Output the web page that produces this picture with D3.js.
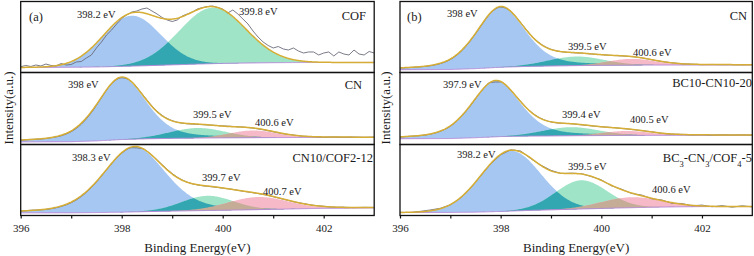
<!DOCTYPE html>
<html><head><meta charset="utf-8">
<script src="https://cdn.jsdelivr.net/npm/d3@7"></script>
<style>
body{margin:0;background:#fff}
svg{display:block}
text{font-family:"Liberation Serif","Times New Roman",serif;fill:#1a1a1a}
</style></head><body>
<svg id="c" width="754" height="256"></svg>
<script>
// ---------------- data ----------------
const energyDomain = [396, 403];
const majorTicks = [396, 398, 400, 402];
const allTicks = [396, 397, 398, 399, 400, 401, 402];
const panelLetters = ["(a)", "(b)"];
const sampleNames = ["COF", "CN", "CN10/COF2-12", "CN", "BC10-CN10-20", "BC3-CN3/COF4-5"];
const peakLabels = [
  ["398.2 eV", "399.8 eV"],
  ["398 eV", "399.5 eV", "400.6 eV"],
  ["398.3 eV", "399.7 eV", "400.7 eV"],
  ["398 eV", "399.5 eV", "400.6 eV"],
  ["397.9 eV", "399.4 eV", "400.5 eV"],
  ["398.2 eV", "399.5 eV", "400.6 eV"]
];
// fitted components (centre eV, height a.u., FWHM eV, Lorentzian fraction)
const peakCenters = [[398.2, 399.8], [398.0, 399.5, 400.6], [398.25, 399.7, 400.7], [398.0, 399.5, 400.6], [397.9, 399.4, 400.5], [398.2, 399.6, 400.6]];
const peakHeights = [[72, 80], [86.5, 14, 10], [93, 21, 18], [86.5, 13, 9], [78, 11.9, 6.2], [86, 41, 15]];
const peakFwhm = [[1.35, 1.55], [1.15, 1.3, 1.1], [1.45, 1.2, 1.4], [1.15, 1.3, 1.1], [1.15, 1.3, 1.1], [1.4, 1.2, 1.4]];
const peakLorentz = [[0, 0], [0.4, 0, 0], [0.3, 0, 0], [0.4, 0, 0], [0.4, 0, 0], [0, 0, 0]];
// background
const baselineEnergies = [396, 397, 397.5, 398, 398.5, 399, 399.5, 400, 400.5, 401, 401.5, 402, 403];
const baselineValues = [
  [6.5, 6.8, 7.2, 8.0, 9.0, 10.2, 11.3, 12.3, 12.9, 13.3, 13.5, 13.6, 13.7],
  [4.3, 4.6, 5.7, 7.6, 8.6, 9.2, 9.6, 9.9, 10.1, 10.3, 10.4, 10.4, 10.4],
  [4.5, 4.6, 4.9, 5.5, 6.3, 7.0, 7.6, 8.2, 8.8, 9.5, 10.3, 11.0, 11.5],
  [3.3, 3.6, 4.8, 6.8, 7.9, 8.6, 9.1, 9.5, 9.7, 9.9, 10.0, 10.0, 10.0],
  [8.7, 9.0, 10.1, 11.7, 12.3, 12.6, 12.9, 13.1, 13.3, 13.4, 13.5, 13.5, 13.5],
  [5.0, 5.1, 5.5, 6.5, 7.8, 8.8, 9.8, 10.8, 11.7, 12.5, 13.1, 13.4, 13.5]
];
// raw spectra
const rawEnergiesFine = d3.range(71).map(i => +(396 + i * 0.1).toFixed(1));   // 0.1 eV
const rawEnergiesCoarse = d3.range(36).map(i => +(396 + i * 0.2).toFixed(1)); // 0.2 eV
const rawCOF = [7.6, 9.3, 7.9, 10, 8.6, 11.4, 9.3, 8.6, 12.1, 10, 10.7,
  14.3, 15, 20, 24.3, 34.3, 42.9, 52.9, 60, 68.6, 76.4,
  81.4, 85.7, 87.1, 90, 91.4, 87.1, 82.9, 77.9, 74.3, 72.1,
  74.3, 80, 82.9, 85.7, 90, 92.1, 93.6, 94.3, 92.1, 90,
  84.3, 88.6, 82.9, 75.7, 68.6, 58.6, 50, 42.9, 37.9, 34.3,
  36.4, 32.9, 31.4, 34.3, 30, 27.1, 28.6, 28.6, 24.3, 27.1,
  28.6, 22.9, 28.6, 25.7, 24.3, 31.4, 25.7, 24.3, 29.3, 27.1];
const rawCN_a = [6.6, 7.8, 8.3, 10.1, 12.8, 18.5, 28.9, 45.0, 65.7, 85.2, 93.4, 87.9, 71.4, 54.2, 41.2, 33.8, 30.2, 29.0,
  28.2, 27.5, 26.6, 25.8, 24.9, 23.5, 21.2, 18.4, 15.6, 13.9, 12.1, 11.6, 11.0, 11.3, 10.8, 11.1, 10.7, 11.0];
const rawCN10COF = [7.0, 8.2, 8.8, 10.4, 13.6, 19.0, 27.8, 40.6, 57.0, 74.6, 89.6, 97.6, 96.4, 86.9, 73.4, 60.6, 51.4, 46.0,
  43.2, 41.6, 39.8, 38.0, 35.4, 33.2, 30.8, 27.6, 24.0, 20.4, 17.8, 15.3, 13.9, 12.6, 12.5, 12.0, 12.4, 12.2];
const rawCN_b = [5.8, 6.4, 7.4, 8.9, 12.0, 17.8, 28.5, 44.6, 64.8, 84.0, 92.8, 86.8, 70.4, 53.0, 40.0, 32.4, 29.0, 27.7,
  26.9, 25.7, 24.8, 23.7, 23.0, 22.0, 20.3, 17.5, 15.0, 13.2, 11.7, 11.2, 10.6, 10.8, 10.5, 10.6, 10.4, 10.6];
const rawBC10 = [11.0, 12.2, 13.0, 15.0, 19.0, 26.0, 38.0, 54.6, 73.2, 87.0, 87.6, 76.0, 60.5, 46.3, 37.0, 32.0, 30.2, 29.6,
  28.0, 26.6, 25.3, 24.4, 23.0, 21.6, 20.0, 18.4, 16.2, 15.0, 14.8, 14.1, 14.3, 13.8, 14.2, 13.9, 14.1, 13.8];
const rawBC3 = [5.3, 5.0, 6.6, 8.6, 11.0, 16.0, 25.6, 39.6, 57.0, 74.2, 87.4, 94.6, 92.8, 81.8, 72.6, 65.2, 60.7, 61.2,
  60.6, 56.3, 51.7, 43.2, 38.4, 32.2, 30.0, 24.6, 23.0, 18.2, 17.9, 14.6, 15.6, 13.2, 14.8, 12.6, 14.6, 13.0];
const rawSeries = [rawCOF, rawCN_a, rawCN10COF, rawCN_b, rawBC10, rawBC3];

// ---------------- layout / style ----------------
const panels = [{x0: 20.7, x1: 374.2}, {x0: 400, x1: 752.3}];
const rows = [
  {top: 2, bottom: 72, f0: 1.5, f1: 72.5},
  {top: 73, bottom: 145, f0: 72.5, f1: 144.5},
  {top: 146, bottom: 216, f0: 144.5, f1: 215.5}
];
const compColors = ["#a6c7f1", "#a0e4c8", "#f6b9c8"];
const overlapColors = ["#33a7b1", "#c4ac97"];
const fitColor = "#d6ae36", rawColor = "#6c6c7c", baseColor = "#b68ad8";
const labelPos = [
  [[77, 18], [239, 15]],
  [[68, 88], [193, 118], [255, 126]],
  [[72, 161], [202, 181], [263, 195]],
  [[447, 17], [568, 50], [633, 56]],
  [[443, 88], [562, 118], [630, 123]],
  [[457, 158], [568, 170], [652, 193]]
];
const namePos = [[366, 20], [362, 89], [373, 162], [747, 20], [752, 87], [752, 162]];
const letterPos = [[29, 21], [407, 21]];

const svg = d3.select("#c");
const defs = svg.append("defs");
const LN2x4 = 4 * Math.LN2;
function pv(e, c, A, w, eta) {
  const t = (e - c) * (e - c) / (w * w);
  return A * ((1 - eta) * Math.exp(-LN2x4 * t) + eta / (1 + 4 * t));
}

for (let s = 0; s < 6; s++) {
  const p = s < 3 ? 0 : 1, r = s % 3;
  const P = panels[p], R = rows[r];
  const x = d3.scaleLinear().domain(energyDomain).range([P.x0, P.x1]);
  const y = d3.scaleLinear().domain([0, 100]).range([R.bottom, R.top]);
  const base = d3.scaleLinear().domain(baselineEnergies).range(baselineValues[s]);
  const grid = d3.range(0, 351).map(i => 396 + i * 0.02);
  const comp = (k, e) => pv(e, peakCenters[s][k], peakHeights[s][k], peakFwhm[s][k], peakLorentz[s][k]);
  const fit = e => base(e) + peakCenters[s].reduce((a, c, k) => a + comp(k, e), 0);

  const cid = "clip" + s;
  defs.append("clipPath").attr("id", cid).append("rect")
    .attr("x", P.x0).attr("y", R.f0).attr("width", P.x1 - P.x0).attr("height", R.f1 - R.f0);
  const g = svg.append("g").attr("clip-path", `url(#${cid})`);

  const n = peakCenters[s].length;
  for (let k = 0; k < n; k++) {
    g.append("path").datum(grid).attr("fill", compColors[k])
      .attr("d", d3.area().x(e => x(e)).y0(e => y(base(e))).y1(e => y(base(e) + comp(k, e))));
  }
  for (let k = 0; k < n - 1; k++) {
    g.append("path").datum(grid).attr("fill", overlapColors[k])
      .attr("d", d3.area().x(e => x(e)).y0(e => y(base(e))).y1(e => y(base(e) + Math.min(comp(k, e), comp(k + 1, e)))));
  }
  g.append("path").datum(grid).attr("fill", "none").attr("stroke", baseColor).attr("stroke-width", 1)
    .attr("d", d3.line().x(e => x(e)).y(e => y(base(e))));
  const rawE = s === 0 ? rawEnergiesFine : rawEnergiesCoarse;
  g.append("path").datum(rawE.map((e, i) => [e, rawSeries[s][i]]))
    .attr("fill", "none").attr("stroke", rawColor).attr("stroke-width", 0.9)
    .attr("d", d3.line().x(d => x(d[0])).y(d => y(d[1])).curve(s === 0 || s === 5 ? d3.curveLinear : d3.curveMonotoneX));
  g.append("path").datum(grid).attr("fill", "none").attr("stroke", fitColor).attr("stroke-width", 1.5)
    .attr("d", d3.line().x(e => x(e)).y(e => y(fit(e))));

  // frame
  svg.append("rect").attr("x", P.x0).attr("y", R.f0).attr("width", P.x1 - P.x0).attr("height", R.f1 - R.f0)
    .attr("fill", "none").attr("stroke", "#111").attr("stroke-width", 1.3);

  // peak labels
  peakLabels[s].forEach((t, k) => {
    svg.append("text").attr("x", labelPos[s][k][0]).attr("y", labelPos[s][k][1])
      .attr("font-size", 10.5).text(t);
  });
  // sample name
  const nt = svg.append("text").attr("x", namePos[s][0]).attr("y", namePos[s][1])
    .attr("text-anchor", "end").attr("font-size", 12.5);
  const nm = sampleNames[s];
  if (nm.startsWith("BC3")) {
    const parts = [["BC", false], ["3", true], ["-CN", false], ["3", true], ["/COF", false], ["4", true], ["-5", false]];
    parts.forEach(([t, sub]) => {
      const ts = nt.append("tspan").text(t);
      if (sub) ts.attr("font-size", 8.5).attr("baseline-shift", "sub");
    });
  } else nt.text(nm);

  if (r === 2) {
    const ax = svg.append("g").attr("transform", `translate(0,${R.f1})`)
      .call(d3.axisBottom(x).tickValues(allTicks).tickSize(3).tickPadding(6)
        .tickFormat(d => majorTicks.includes(d) ? d : ""));
    ax.select(".domain").remove();
    ax.selectAll("line").attr("stroke", "#111").attr("stroke-width", 1.2);
    ax.selectAll("text").attr("font-size", 11).attr("font-family", '"Liberation Serif",serif').attr("fill", "#1a1a1a");
  }
}

// panel letters, axis titles
panelLetters.forEach((t, i) => svg.append("text").attr("x", letterPos[i][0]).attr("y", letterPos[i][1]).attr("font-size", 12.5).text(t));
[0, 1].forEach(p => {
  const P = panels[p];
  svg.append("text").attr("x", (P.x0 + P.x1) / 2).attr("y", 252).attr("text-anchor", "middle")
    .attr("font-size", 13).text("Binding Energy(eV)");
  const yl = p === 0 ? 9 : 386;
  svg.append("text").attr("transform", `translate(${yl + 4},108) rotate(-90)`).attr("text-anchor", "middle")
    .attr("font-size", 13).text("Intensity(a.u.)");
});
</script>
</body></html>
